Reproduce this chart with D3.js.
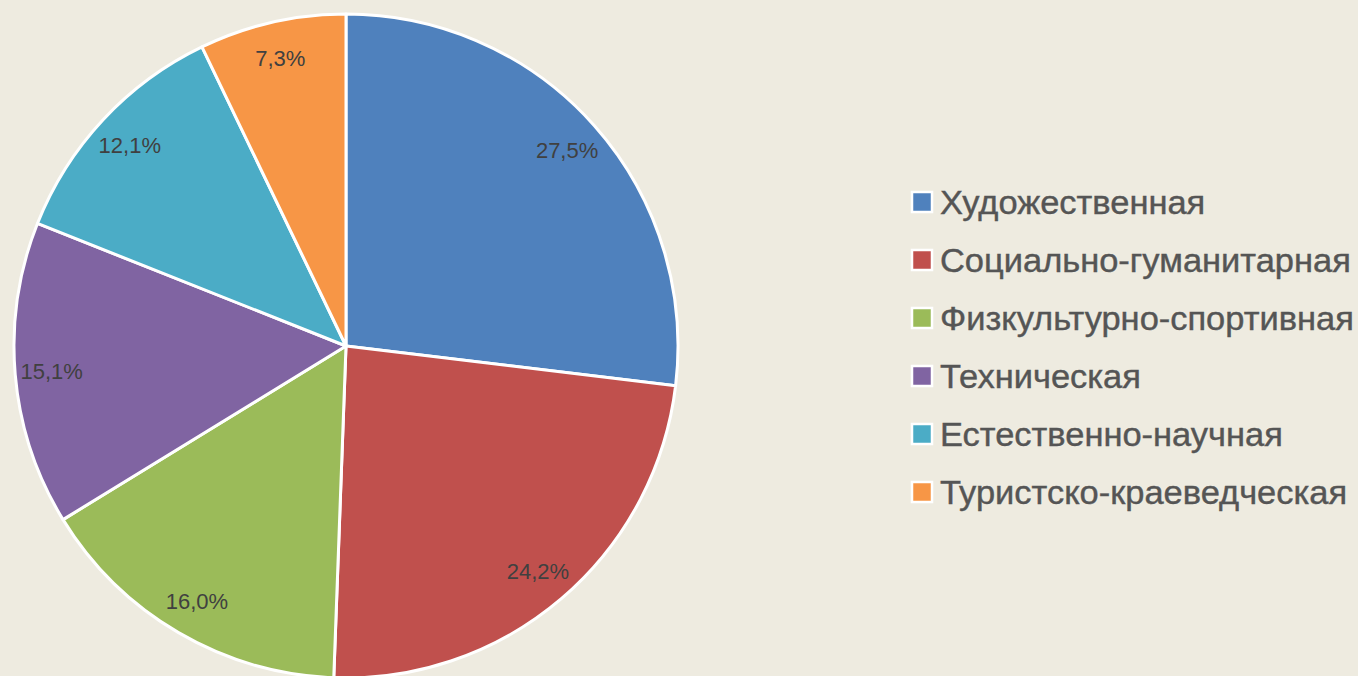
<!DOCTYPE html>
<html>
<head>
<meta charset="utf-8">
<script src="https://cdn.jsdelivr.net/npm/d3@7"></script>
<style>
  html, body { margin: 0; padding: 0; background: #EEEBE0; }
  svg { display: block; }
</style>
</head>
<body>
<div id="chart"></div>
<script>
(function(){
  'use strict';

  var categories = ['Художественная', 'Социально-гуманитарная', 'Физкультурно-спортивная',
                    'Техническая', 'Естественно-научная', 'Туристско-краеведческая'];
  var values = [27.5, 24.2, 16.0, 15.1, 12.1, 7.3];
  var labels = ['27,5%', '24,2%', '16,0%', '15,1%', '12,1%', '7,3%'];
  var colors = ['#4F81BD', '#C0504D', '#9BBB59', '#8064A2', '#4BACC6', '#F79646'];

  var w = 1358,
      h = 676,
      cx = 346,
      cy = 346,
      r = 332;

  var svg = d3.select('#chart').append('svg')
    .attr('width', w)
    .attr('height', h);

  svg.append('rect')
    .attr('width', w)
    .attr('height', h)
    .attr('fill', '#EEEBE0');

  var data = categories.map(function(c, i){
    return {name: c, value: values[i], label: labels[i], color: colors[i]};
  });

  var pie = d3.pie()
    .sort(null)
    .value(function(d){ return d.value; });

  var arc = d3.arc()
    .innerRadius(0)
    .outerRadius(r);

  var labelArc = d3.arc()
    .innerRadius(r * 0.78)
    .outerRadius(r * 1.0);

  var g = svg.append('g')
    .attr('transform', 'translate(' + cx + ',' + cy + ')');

  var slices = g.selectAll('.slice')
    .data(pie(data))
    .enter()
    .append('g')
    .attr('class', 'slice');

  slices.append('path')
    .attr('d', arc)
    .attr('fill', function(d){ return d.data.color; })
    .attr('stroke', '#ffffff')
    .attr('stroke-width', 3)
    .attr('stroke-linejoin', 'round');

  slices.append('text')
    .attr('transform', function(d){ return 'translate(' + labelArc.centroid(d) + ')'; })
    .attr('text-anchor', 'middle')
    .attr('dy', '0.36em')
    .style('font-family', '"Liberation Sans", Arial, sans-serif')
    .style('font-size', '22px')
    .style('fill', '#404040')
    .text(function(d){ return d.data.label; });

  // legend
  var legend = svg.append('g')
    .attr('class', 'legend');

  var rowY = d3.scaleLinear()
    .domain([0, categories.length - 1])
    .range([202, 492]);

  var rows = legend.selectAll('.row')
    .data(data)
    .enter()
    .append('g')
    .attr('class', 'row')
    .attr('transform', function(d, i){ return 'translate(0,' + rowY(i) + ')'; });

  rows.append('rect')
    .attr('x', 912)
    .attr('y', -10)
    .attr('width', 20)
    .attr('height', 20)
    .attr('fill', function(d){ return d.color; })
    .attr('stroke', '#ffffff')
    .attr('stroke-width', 2.5);

  var texts = rows.append('text')
    .attr('x', 0)
    .attr('y', 0)
    .style('font-family', '"Liberation Sans Narrow", "Liberation Sans", Arial, sans-serif')
    .style('font-size', '33px')
    .style('fill', '#555555')
    .style('stroke', '#555555')
    .style('stroke-width', 0.4)
    .text(function(d){ return d.name; });

  // squeeze legend text horizontally to match the narrow face of the original
  var widest = 0;
  texts.each(function(){ widest = Math.max(widest, this.getComputedTextLength()); });
  var sx = widest > 0 ? 414 / widest : 1;
  texts.attr('transform', 'translate(940,12) scale(' + sx + ',1)');

}());
</script>
</body>
</html>
